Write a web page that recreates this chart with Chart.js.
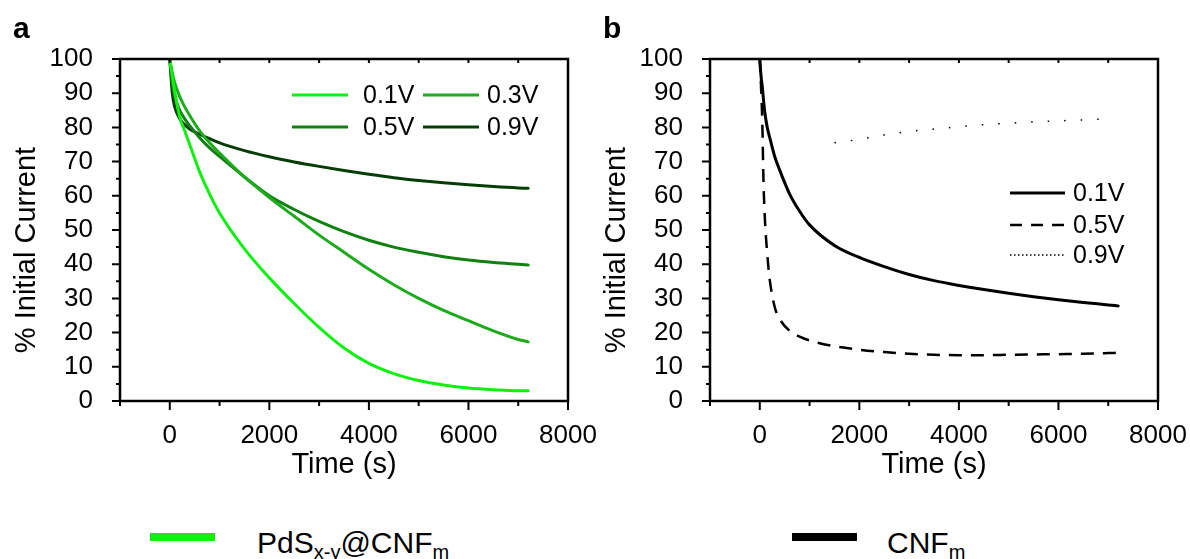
<!DOCTYPE html>
<html>
<head>
<meta charset="utf-8">
<script src="https://cdn.jsdelivr.net/npm/chart.js@4.4.1/dist/chart.umd.min.js"></script>
<style>
  html, body { margin: 0; padding: 0; background: #fff; }
  #wrap { position: relative; width: 1190px; height: 559px; overflow: hidden;
          font-family: "Liberation Sans", Arial, sans-serif; color: #000; }
  canvas { position: absolute; top: 0; }
  #ca { left: 0; }
  #cb { left: 590px; }
  .panel { position: absolute; font-weight: bold; font-size: 30px; line-height: 30px; }
  .key { position: absolute; font-size: 30px; line-height: 30px; white-space: nowrap; }
  .key sub { font-size: 20px; vertical-align: -6px; line-height: 0; }
  .bar { position: absolute; height: 8px; width: 65px; }
</style>
</head>
<body>
<div id="wrap">
  <canvas id="ca" width="616" height="482"></canvas>
  <canvas id="cb" width="616" height="482"></canvas>
  <div class="panel" style="left:13px;top:13px">a</div>
  <div class="panel" style="left:603px;top:13px">b</div>
  <div class="bar" style="left:150px;top:533px;background:#10f010"></div>
  <div class="key" style="left:257px;top:528px">PdS<sub>x-y</sub>@CNF<sub>m</sub></div>
  <div class="bar" style="left:792px;top:533px;background:#000"></div>
  <div class="key" style="left:887px;top:528px">CNF<sub>m</sub></div>
</div>
<script>
// Chronoamperometry: current retention (% of initial) versus time
const timeA = [0, 50, 100, 200, 300, 400, 600, 800, 1000, 1500, 2000, 2500, 3000, 3500, 4000, 4500, 5000, 5500, 6000, 6500, 7000, 7200];
const pds01 = [100, 95, 90.5, 83, 79, 75, 67, 60.5, 55, 44.5, 36, 28.5, 21.5, 15.5, 11, 8, 6, 4.7, 3.8, 3.3, 3, 3];
const pds03 = [100, 96, 93, 89, 86, 83.5, 79, 75.5, 72.5, 65.5, 59.5, 54, 48.5, 43.5, 38.5, 34, 30, 26.5, 23.5, 20.5, 18, 17.3];
const pds05 = [100, 93, 89, 85, 82.5, 80.5, 77, 74, 71.5, 65.5, 60, 56, 52.5, 49.5, 47, 45, 43.5, 42.2, 41.2, 40.5, 40, 39.8];
const pds09 = [100, 90, 86, 82.5, 80.8, 79.5, 78, 76.7, 75.5, 73.2, 71.4, 69.9, 68.6, 67.4, 66.3, 65.3, 64.5, 63.8, 63.2, 62.7, 62.3, 62.2];

const timeB = [0, 25, 50, 75, 100, 150, 200, 300, 400, 600, 800, 1000, 1500, 2000, 2500, 3000, 3500, 4000, 4500, 5000, 5500, 6000, 6500, 7000, 7200];
const cnf01 = [100, 95, 92, 88, 84.5, 80, 77, 71.5, 67.5, 60.5, 55.5, 51.5, 45.5, 42, 39.3, 37, 35.2, 33.8, 32.6, 31.5, 30.5, 29.6, 28.8, 28.1, 27.8];
const cnf05 = [100, 92, 82, 64, 54, 43, 35.5, 27.5, 24, 20.5, 18.8, 17.7, 16, 15, 14.3, 13.8, 13.5, 13.4, 13.4, 13.5, 13.6, 13.7, 13.8, 14, 14.1];
const timeB09 = [1500, 2000, 2500, 3000, 3500, 4000, 4500, 5000, 5500, 6000, 6500, 7000];
const cnf09 = [75.5, 76.5, 77.8, 78.8, 79.5, 80.2, 80.8, 81.2, 81.6, 81.9, 82.2, 82.5];

const seriesLabels = ['0.1V', '0.3V', '0.5V', '0.9V'];
const xTickLabels = [0, 2000, 4000, 6000, 8000];
const yTickLabels = [0, 10, 20, 30, 40, 50, 60, 70, 80, 90, 100];
const xTitle = 'Time (s)';
const yTitle = '% Initial Current';

const FONT = '"Liberation Sans", Arial, sans-serif';

function pts(xs, ys) { return xs.map((t, i) => ({ x: t, y: ys[i] })); }

// Box frame, tick marks and the rotated y-axis title
const framePlugin = {
  id: 'frame',
  afterDraw(chart, args, opts) {
    const { ctx, chartArea: a, scales: { x, y } } = chart;
    ctx.save();
    ctx.strokeStyle = '#000';
    ctx.lineWidth = 2.5;
    ctx.strokeRect(a.left, a.top, a.right - a.left, a.bottom - a.top);
    ctx.lineWidth = 2;
    ctx.beginPath();
    x.ticks.forEach(t => {
      const px = x.getPixelForValue(t.value);
      const major = xTickLabels.includes(t.value);
      ctx.moveTo(px, a.bottom);
      ctx.lineTo(px, a.bottom + (major ? 9 : 5));
      ctx.moveTo(px, a.top);
      ctx.lineTo(px, a.top + 4);
    });
    y.ticks.forEach(t => {
      const py = y.getPixelForValue(t.value);
      const major = yTickLabels.includes(t.value);
      ctx.moveTo(a.left + 1, py);
      ctx.lineTo(a.left - (major ? 8 : 4), py);
    });
    ctx.stroke();
    ctx.translate(opts.titleX, opts.titleY);
    ctx.rotate(-Math.PI / 2);
    ctx.font = '29px ' + FONT;
    ctx.fillStyle = '#000';
    ctx.textAlign = 'center';
    ctx.textBaseline = 'middle';
    ctx.fillText(yTitle, 0, 0);
    ctx.restore();
  }
};

// Legend drawn inside the plot area
const keyPlugin = {
  id: 'innerKey',
  afterDraw(chart, args, opts) {
    const ctx = chart.ctx;
    ctx.save();
    ctx.font = '25px ' + FONT;
    ctx.fillStyle = '#000';
    ctx.textBaseline = 'middle';
    opts.items.forEach(it => {
      const ds = chart.data.datasets[it.index];
      ctx.strokeStyle = ds.borderColor;
      ctx.lineWidth = it.width || ds.borderWidth;
      ctx.setLineDash(it.dash || ds.borderDash || []);
      ctx.beginPath();
      ctx.moveTo(it.x, it.y);
      ctx.lineTo(it.x + it.len, it.y);
      ctx.stroke();
      ctx.setLineDash([]);
      ctx.fillText(ds.label, it.tx, it.y + 1);
    });
    ctx.restore();
  }
};

function makeOptions(keyItems) {
  return {
    responsive: false,
    animation: false,
    devicePixelRatio: 1,
    layout: { padding: { left: 0, top: 59, right: 48, bottom: 0 } },
    elements: {
      point: { radius: 0 },
      line: { cubicInterpolationMode: 'monotone', borderCapStyle: 'round', borderJoinStyle: 'round' }
    },
    plugins: {
      legend: { display: false },
      tooltip: { enabled: false },
      frame: { titleX: 27, titleY: 250 },
      innerKey: { items: keyItems }
    },
    scales: {
      x: {
        type: 'linear', min: -1000, max: 8000,
        grid: { display: false, drawTicks: false },
        border: { display: false },
        ticks: {
          stepSize: 1000, autoSkip: false, maxRotation: 0, minRotation: 0, padding: 19,
          color: '#000', font: { size: 26, family: FONT },
          callback: v => xTickLabels.includes(v) ? String(v) : ''
        },
        title: { display: true, text: xTitle, color: '#000', font: { size: 29, family: FONT }, padding: { top: 0, bottom: 0 } },
        afterFit: s => { s.height = 81; }
      },
      y: {
        type: 'linear', min: 0, max: 100,
        grid: { display: false, drawTicks: false },
        border: { display: false },
        ticks: {
          stepSize: 5, autoSkip: false, padding: 27,
          color: '#000', font: { size: 26, family: FONT },
          callback: v => yTickLabels.includes(v) ? String(v) : ''
        },
        afterFit: s => { s.width = 120; }
      }
    }
  };
}

// Panel a: PdSx-y@CNFm
new Chart(document.getElementById('ca'), {
  type: 'line',
  data: {
    datasets: [
      { label: seriesLabels[0], data: pts(timeA, pds01), borderColor: '#10f010', borderWidth: 3 },
      { label: seriesLabels[1], data: pts(timeA, pds03), borderColor: '#1daa1d', borderWidth: 3 },
      { label: seriesLabels[2], data: pts(timeA, pds05), borderColor: '#108010', borderWidth: 3 },
      { label: seriesLabels[3], data: pts(timeA, pds09), borderColor: '#063d06', borderWidth: 3 }
    ]
  },
  options: makeOptions([
    { index: 0, x: 292, len: 56, tx: 363, y: 95 },
    { index: 1, x: 423, len: 56, tx: 487, y: 95 },
    { index: 2, x: 292, len: 56, tx: 363, y: 127 },
    { index: 3, x: 423, len: 56, tx: 487, y: 127 }
  ]),
  plugins: [framePlugin, keyPlugin]
});

// Panel b: CNFm
new Chart(document.getElementById('cb'), {
  type: 'line',
  data: {
    datasets: [
      { label: seriesLabels[0], data: pts(timeB, cnf01), borderColor: '#000', borderWidth: 3 },
      { label: seriesLabels[2], data: pts(timeB, cnf05), borderColor: '#000', borderWidth: 2.5, borderDash: [13, 9], borderCapStyle: 'butt' },
      { label: seriesLabels[3], data: pts(timeB09, cnf09), borderColor: '#000', borderWidth: 1.5, borderDash: [1.5, 15], borderCapStyle: 'butt' }
    ]
  },
  options: makeOptions([
    { index: 0, x: 420, len: 55, tx: 483, y: 193 },
    { index: 1, x: 420, len: 55, tx: 483, y: 225, dash: [12, 9] },
    { index: 2, x: 420, len: 55, tx: 483, y: 255, dash: [1.5, 2.5] }
  ]),
  plugins: [framePlugin, keyPlugin]
});
</script>
</body>
</html>
